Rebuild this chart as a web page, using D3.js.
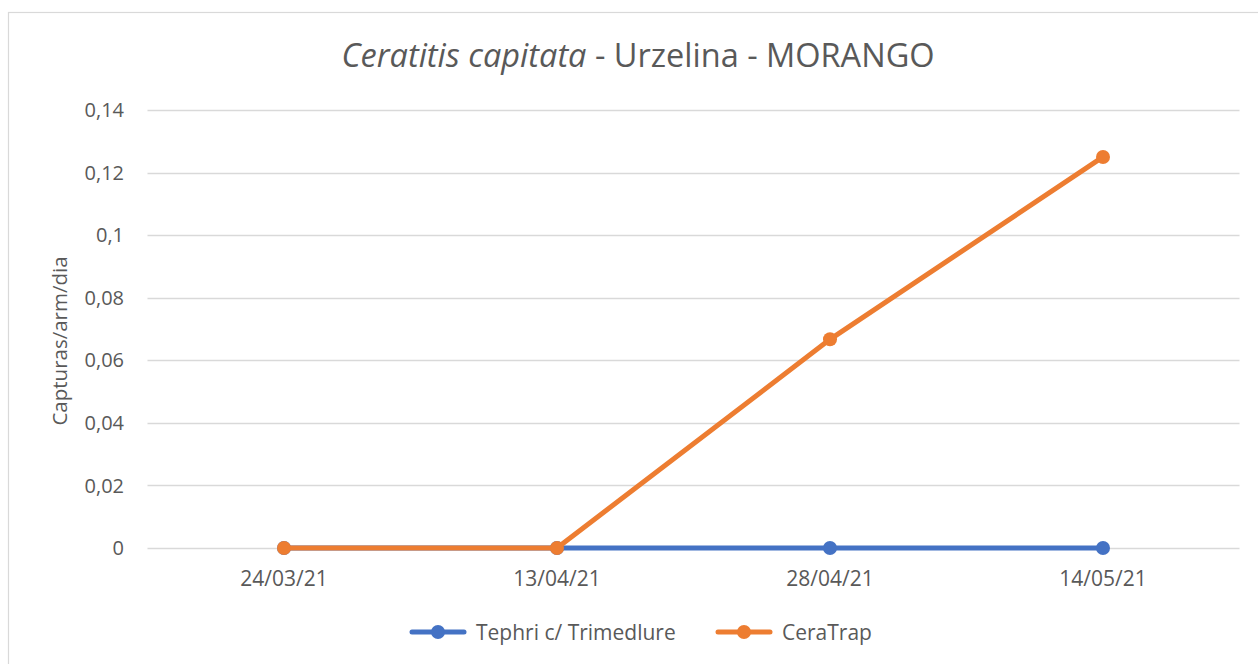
<!DOCTYPE html>
<html>
<head>
<meta charset="utf-8">
<script src="https://cdn.jsdelivr.net/npm/d3@7"></script>
<style>
  body { margin: 0; background: #fff; }
  svg { display: block; font-family: "Open Sans", sans-serif; }
</style>
</head>
<body>
<svg id="chart" width="1258" height="664"></svg>
<script>
// data
const dates = ["24/03/21", "13/04/21", "28/04/21", "14/05/21"];
const tephri = [0, 0, 0, 0];
const ceratrap = [0, 0, 0.0667, 0.125];
const yTicks = [0, 0.02, 0.04, 0.06, 0.08, 0.1, 0.12, 0.14];
const seriesNames = ["Tephri c/ Trimedlure", "CeraTrap"];
const seriesColors = ["#4472C4", "#ED7D31"];

const svg = d3.select("#chart");
const textColor = "#595959";

// chart border
svg.append("rect")
  .attr("x", 8.5).attr("y", 12.5)
  .attr("width", 1260).attr("height", 660)
  .attr("fill", "none").attr("stroke", "#d9d9d9").attr("stroke-width", 1.2);

const x = d3.scalePoint().domain(dates).range([284, 1103]);
const y = d3.scaleLinear().domain([0, 0.14]).range([548, 110]);
const fmt = d => String(+d.toFixed(2)).replace(".", ",");

// gridlines
svg.append("g")
  .selectAll("line")
  .data(yTicks)
  .join("line")
  .attr("x1", 147.5).attr("x2", 1239.5)
  .attr("y1", d => Math.round(y(d)) + 0.5).attr("y2", d => Math.round(y(d)) + 0.5)
  .attr("stroke", "#d9d9d9").attr("stroke-width", 1.3);

// y tick labels
svg.append("g")
  .selectAll("text")
  .data(yTicks)
  .join("text")
  .attr("x", 124).attr("y", d => y(d))
  .attr("dy", "0.36em")
  .attr("text-anchor", "end")
  .attr("font-size", 20).attr("fill", textColor)
  .text(fmt);

// x tick labels
svg.append("g")
  .selectAll("text")
  .data(dates)
  .join("text")
  .attr("x", d => x(d)).attr("y", 586)
  .attr("text-anchor", "middle")
  .attr("font-size", 21).attr("fill", textColor)
  .text(d => d);

// y axis title
svg.append("text")
  .attr("transform", "translate(67,341) rotate(-90)")
  .attr("text-anchor", "middle")
  .attr("font-size", 20.5).attr("fill", textColor)
  .text("Capturas/arm/dia");

// title
const title = svg.append("text")
  .attr("x", 638).attr("y", 67)
  .attr("text-anchor", "middle")
  .attr("font-size", 32.5).attr("fill", textColor);
title.append("tspan").attr("font-style", "italic").text("Ceratitis capitata");
title.append("tspan").text(" - Urzelina - MORANGO");

// series
const line = d3.line().x((d, i) => x(dates[i])).y(d => y(d));
[tephri, ceratrap].forEach((vals, k) => {
  const g = svg.append("g");
  g.append("path")
    .attr("d", line(vals))
    .attr("fill", "none")
    .attr("stroke", seriesColors[k])
    .attr("stroke-width", 5)
    .attr("stroke-linejoin", "round");
  g.selectAll("circle")
    .data(vals)
    .join("circle")
    .attr("cx", (d, i) => x(dates[i])).attr("cy", d => y(d))
    .attr("r", 7)
    .attr("fill", seriesColors[k]);
});

// legend
const legendX = [410, 716];
seriesNames.forEach((name, k) => {
  const g = svg.append("g").attr("transform", `translate(${legendX[k]},632)`);
  g.append("line")
    .attr("x1", 2).attr("x2", 54)
    .attr("stroke", seriesColors[k]).attr("stroke-width", 5)
    .attr("stroke-linecap", "round");
  g.append("circle").attr("cx", 28).attr("r", 7).attr("fill", seriesColors[k]);
  g.append("text")
    .attr("x", 66).attr("dy", "0.36em")
    .attr("font-size", 21).attr("fill", textColor)
    .text(name);
});
</script>
</body>
</html>
